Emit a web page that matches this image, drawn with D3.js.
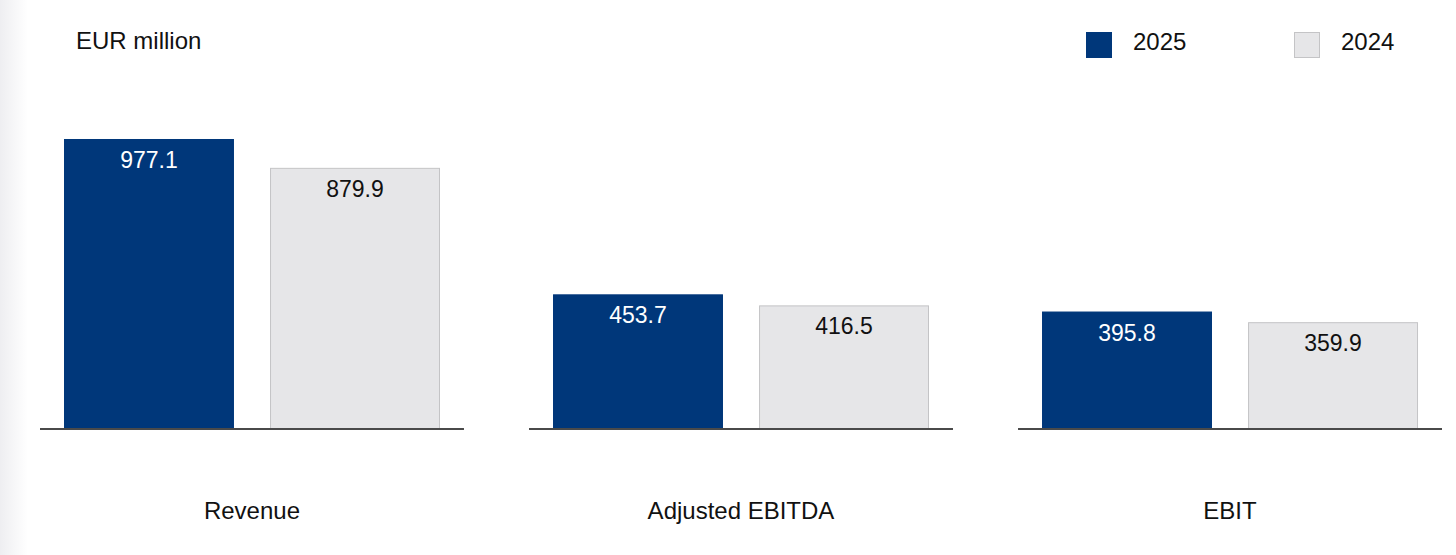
<!DOCTYPE html>
<html>
<head>
<meta charset="utf-8">
<script src="https://cdn.jsdelivr.net/npm/d3@7"></script>
<style>
    body { margin: 0; background: #fff; }
    svg text { font-family: "Liberation Sans", Arial, sans-serif; }
</style>
</head>
<body>
<div id="chart"></div>
<script>

// chart data
const categories = ["Revenue", "Adjusted EBITDA", "EBIT"];
const years = ["2025", "2024"];
const values2025 = [977.1, 453.7, 395.8];
const values2024 = [879.9, 416.5, 359.9];
const unitLabel = "EUR million";

const width = 1456, height = 555;

const colors = { "2025": "#00377a", "2024": "#e6e6e8" };
const strokes = { "2025": "#00377a", "2024": "#c4c4c6" };

const svg = d3.select("#chart")
    .append("svg")
    .attr("width", width)
    .attr("height", height);

// faint grey fade on the left edge
const defs = svg.append("defs");
const grad = defs.append("linearGradient").attr("id", "fade");
grad.append("stop").attr("offset", "0%").attr("stop-color", "#eeeef1");
grad.append("stop").attr("offset", "100%").attr("stop-color", "#ffffff");
svg.append("rect")
    .attr("x", 0).attr("y", 0)
    .attr("width", 28).attr("height", height)
    .style("fill", "url(#fade)");

// scales
const xPanel = d3.scaleBand()
    .domain(categories)
    .range([40, 1442])
    .paddingInner(0.133);

const xYear = d3.scaleBand()
    .domain(years)
    .range([24, 400])
    .paddingInner(0.175);

const baseY = 429;
const y = d3.scaleLinear()
    .domain([0, 1000])
    .range([baseY, baseY - 296.8]);

const rows = categories.map((c, i) => ({
    category: c,
    bars: [
        { year: "2025", value: values2025[i] },
        { year: "2024", value: values2024[i] }
    ]
}));

const panel = svg.selectAll(".panel")
    .data(rows)
    .enter()
    .append("g")
    .attr("class", "panel")
    .attr("transform", (d) => "translate(" + xPanel(d.category) + ",0)");

panel.selectAll(".bar")
    .data((d) => d.bars)
    .enter()
    .append("rect")
    .attr("class", "bar")
    .attr("x", (d) => xYear(d.year) + 0.5)
    .attr("y", (d) => y(d.value) + 0.5)
    .attr("width", xYear.bandwidth() - 1)
    .attr("height", (d) => baseY - y(d.value) - 0.5)
    .style("fill", (d) => colors[d.year])
    .style("stroke", (d) => strokes[d.year])
    .style("stroke-width", 1);

panel.selectAll(".value")
    .data((d) => d.bars)
    .enter()
    .append("text")
    .attr("class", "value")
    .attr("x", (d) => xYear(d.year) + xYear.bandwidth() / 2)
    .attr("y", (d) => y(d.value) + 29)
    .attr("text-anchor", "middle")
    .style("font-size", "23px")
    .style("fill", (d) => d.year === "2025" ? "#ffffff" : "#111111")
    .text((d) => d3.format(".1f")(d.value));

// baseline per panel
panel.append("line")
    .attr("x1", 0)
    .attr("x2", xPanel.bandwidth())
    .attr("y1", baseY)
    .attr("y2", baseY)
    .style("stroke", "#4a4a4a")
    .style("stroke-width", 2);

// category names
panel.append("text")
    .attr("x", xPanel.bandwidth() / 2)
    .attr("y", 519)
    .attr("text-anchor", "middle")
    .style("font-size", "24px")
    .style("fill", "#111")
    .text((d) => d.category);

// unit label
svg.append("text")
    .attr("x", 76)
    .attr("y", 49)
    .style("font-size", "24px")
    .style("fill", "#111")
    .text(unitLabel);

// legend
const legendX = d3.scalePoint()
    .domain(years)
    .range([1086, 1294]);

const legend = svg.selectAll(".legend")
    .data(years)
    .enter()
    .append("g")
    .attr("class", "legend")
    .attr("transform", (d) => "translate(" + legendX(d) + ",32)");

legend.append("rect")
    .attr("x", 0.5).attr("y", 0.5)
    .attr("width", 25).attr("height", 25)
    .style("fill", (d) => colors[d])
    .style("stroke", (d) => strokes[d]);

legend.append("text")
    .attr("x", 47)
    .attr("y", 18)
    .style("font-size", "24px")
    .style("fill", "#111")
    .text((d) => d);

</script>
</body>
</html>
